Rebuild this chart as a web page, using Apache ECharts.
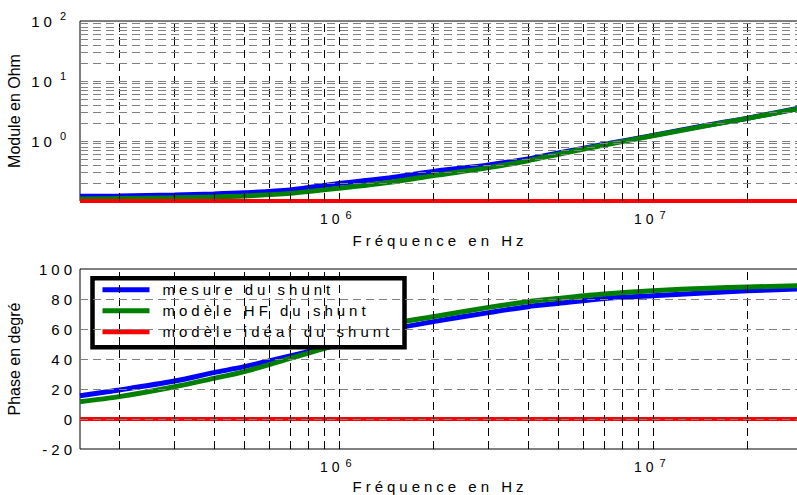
<!DOCTYPE html>
<html><head><meta charset="utf-8">
<script src="https://cdn.jsdelivr.net/npm/echarts@6/dist/echarts.min.js"></script>
<style>
html,body{margin:0;padding:0;background:#fff;}
#c{width:797px;height:495px;}
#c text{letter-spacing:4px;}
#c text[style*="Arimo"], #c text[font-family*="Arimo"]{letter-spacing:0;}
</style></head><body><div id="c"></div>
<script>
// ---- data ----
const freq = [1.5e5, 2e5, 3e5, 4e5, 5e5, 7e5, 1e6, 1.5e6, 2e6, 3e6, 4e6, 5e6, 7e6, 1e7, 1.5e7, 2e7, 2.9e7];
const moduleMesure   = [0.120, 0.121, 0.126, 0.131, 0.137, 0.153, 0.195, 0.25, 0.31, 0.40, 0.50, 0.63, 0.88, 1.24, 1.85, 2.40, 3.50];
const moduleModeleHF = [0.108, 0.110, 0.113, 0.117, 0.121, 0.134, 0.163, 0.21, 0.265, 0.36, 0.47, 0.60, 0.86, 1.22, 1.82, 2.38, 3.45];
const moduleIdeal    = [0.1, 0.1, 0.1, 0.1, 0.1, 0.1, 0.1, 0.1, 0.1, 0.1, 0.1, 0.1, 0.1, 0.1, 0.1, 0.1, 0.1];
const phaseMesure    = [15.5, 19.3, 25.3, 30.9, 34.9, 42.0, 50.0, 60.0, 64.9, 70.9, 74.9, 77.1, 80.4, 82.2, 84.2, 85.5, 86.7];
const phaseModeleHF  = [11.5, 14.9, 21.5, 27.1, 31.6, 40.4, 50.0, 63.5, 68.2, 74.4, 78.2, 80.4, 83.3, 85.5, 87.2, 88.0, 88.8];
const phaseIdeal     = [0, 0, 0, 0, 0, 0, 0, 0, 0, 0, 0, 0, 0, 0, 0, 0, 0];
const seriesNames = ['mesure du shunt', 'modèle HF du shunt', 'modèle idéal du shunt'];
const xGridTicks = [2e5, 3e5, 4e5, 5e5, 6e5, 7e5, 8e5, 9e5, 1e6, 2e6, 3e6, 4e6, 5e6, 6e6, 7e6, 8e6, 9e6, 1e7, 2e7];
const moduleGridTicks = [0.2, 0.3, 0.4, 0.5, 0.6, 0.7, 0.8, 0.9, 1, 2, 3, 4, 5, 6, 7, 8, 9, 10, 20, 30, 40, 50, 60, 70, 80, 90];
const phaseGridTicks = [0, 20, 40, 60, 80];
const phaseTicks = { min: -20, max: 100, interval: 20 };
const xTitle = 'Fréquence en Hz';
const yTitleTop = 'Module en Ohm';
const yTitleBottom = 'Phase en degré';

const FONT = 'Liberation Sans';
const FONT_NOSP = "'Liberation Sans', Arimo";
const colors = ['#0000ff', '#008000', '#ff0000'];

function pow10Label(v) {
  const e = Math.log10(v);
  const r = Math.round(e);
  if (Math.abs(e - r) > 1e-6) return '';
  return '{b|10}{s|' + r + '}';
}
const richX = {
  b: { fontFamily: FONT, fontSize: 14, color: '#000', padding: [0, 8, 0, 0] },
  s: { fontFamily: FONT, fontSize: 11, color: '#000', padding: [0, 0, 9, 0] }
};
const richY = {
  b: { fontFamily: FONT, fontSize: 15, color: '#000', padding: [0, 8, 0, 0] },
  s: { fontFamily: FONT, fontSize: 11, color: '#000', padding: [0, 0, 10, 0] }
};

function gridLines(yTicks, yColor) {
  return xGridTicks.map(v => ({ xAxis: v, lineStyle: { color: '#000', type: [8, 5], width: 1 } }))
    .concat(yTicks.map(v => ({ yAxis: v, lineStyle: { color: yColor, type: [8, 5], width: 1 } })));
}

const chart = echarts.init(document.getElementById('c'), null, { renderer: 'svg' });
chart.setOption({
  animation: false,
  backgroundColor: '#fff',
  grid: [
    { left: 80, top: 21, right: -3, height: 180, outerBoundsMode: 'none', containLabel: false, show: true, borderColor: '#000', borderWidth: 1, backgroundColor: 'transparent' },
    { left: 80, top: 269, right: -3, height: 180, outerBoundsMode: 'none', containLabel: false, show: true, borderColor: '#000', borderWidth: 1, backgroundColor: 'transparent' }
  ],
  legend: {
    orient: 'vertical', left: 92.5, top: 278.3,
    data: seriesNames,
    icon: 'path://M0,0H47V5H0Z',
    itemWidth: 47, itemHeight: 15, itemGap: 6,
    padding: [4, 12, 8, 10],
    borderColor: '#000', borderWidth: 4.5,
    backgroundColor: '#fff',
    selectedMode: false,
    textStyle: { fontFamily: FONT, fontSize: 15, color: '#000', width: 230, lineHeight: 15, padding: [0, 0, 0, 8] }
  },
  xAxis: [0, 1].map(i => ({
    type: 'log', logBase: 10, gridIndex: i, min: 1.5e5, max: 2.94e7,
    name: xTitle, nameLocation: 'middle', nameGap: i === 0 ? 32 : 30,
    nameTextStyle: { fontFamily: FONT, fontSize: 15, lineHeight: 14, color: '#000' },
    axisLine: { show: false }, axisTick: { show: false }, splitLine: { show: false },
    axisLabel: { formatter: pow10Label, rich: richX, margin: 8, showMinLabel: true, showMaxLabel: true }
  })),
  yAxis: [
    {
      type: 'log', logBase: 10, gridIndex: 0, min: 0.1, max: 100,
      name: yTitleTop, nameLocation: 'middle', nameGap: 58,
      nameTextStyle: { fontFamily: FONT_NOSP, fontSize: 16, color: '#000' },
      axisLine: { show: false }, axisTick: { show: false }, splitLine: { show: false },
      axisLabel: { formatter: v => (Math.abs(v - 0.1) < 1e-9 ? '' : pow10Label(v)), rich: richY, margin: 10 }
    },
    {
      type: 'value', gridIndex: 1, min: phaseTicks.min, max: phaseTicks.max, interval: phaseTicks.interval,
      name: yTitleBottom, nameLocation: 'middle', nameGap: 58,
      nameTextStyle: { fontFamily: FONT_NOSP, fontSize: 16, color: '#000' },
      axisLine: { show: false }, axisTick: { show: false }, splitLine: { show: false },
      axisLabel: { fontFamily: FONT, fontSize: 15, color: '#000', margin: 4 }
    }
  ],
  series: [
    { type: 'line', xAxisIndex: 0, yAxisIndex: 0, z: 1, silent: true, symbol: 'none',
      data: freq.map((f, i) => [f, moduleIdeal[i]]), lineStyle: { opacity: 0 },
      markLine: { silent: true, symbol: ['none', 'none'], label: { show: false }, emphasis: { disabled: true }, data: gridLines(moduleGridTicks, '#808080') } },
    { type: 'line', xAxisIndex: 1, yAxisIndex: 1, z: 1, silent: true, symbol: 'none',
      data: freq.map((f, i) => [f, phaseIdeal[i]]), lineStyle: { opacity: 0 },
      markLine: { silent: true, symbol: ['none', 'none'], label: { show: false }, emphasis: { disabled: true }, data: gridLines(phaseGridTicks, '#808080') } },
    { name: seriesNames[0], type: 'line', xAxisIndex: 0, yAxisIndex: 0, z: 3, symbol: 'none', smooth: 0.3, clip: false,
      data: freq.map((f, i) => [f, moduleMesure[i]]), lineStyle: { color: colors[0], width: 5 }, itemStyle: { color: colors[0] } },
    { name: seriesNames[1], type: 'line', xAxisIndex: 0, yAxisIndex: 0, z: 3, symbol: 'none', smooth: 0.3, clip: false,
      data: freq.map((f, i) => [f, moduleModeleHF[i]]), lineStyle: { color: colors[1], width: 5 }, itemStyle: { color: colors[1] } },
    { name: seriesNames[2], type: 'line', xAxisIndex: 0, yAxisIndex: 0, z: 4, symbol: 'none', clip: false,
      data: freq.map((f, i) => [f, moduleIdeal[i]]), lineStyle: { color: colors[2], width: 4 }, itemStyle: { color: colors[2] } },
    { name: seriesNames[0], type: 'line', xAxisIndex: 1, yAxisIndex: 1, z: 3, symbol: 'none', smooth: 0.3,
      data: freq.map((f, i) => [f, phaseMesure[i]]), lineStyle: { color: colors[0], width: 5 }, itemStyle: { color: colors[0] } },
    { name: seriesNames[1], type: 'line', xAxisIndex: 1, yAxisIndex: 1, z: 3, symbol: 'none', smooth: 0.3,
      data: freq.map((f, i) => [f, phaseModeleHF[i]]), lineStyle: { color: colors[1], width: 5 }, itemStyle: { color: colors[1] } },
    { name: seriesNames[2], type: 'line', xAxisIndex: 1, yAxisIndex: 1, z: 4, symbol: 'none',
      data: freq.map((f, i) => [f, phaseIdeal[i]]), lineStyle: { color: colors[2], width: 4 }, itemStyle: { color: colors[2] } }
  ]
});
</script></body></html>
